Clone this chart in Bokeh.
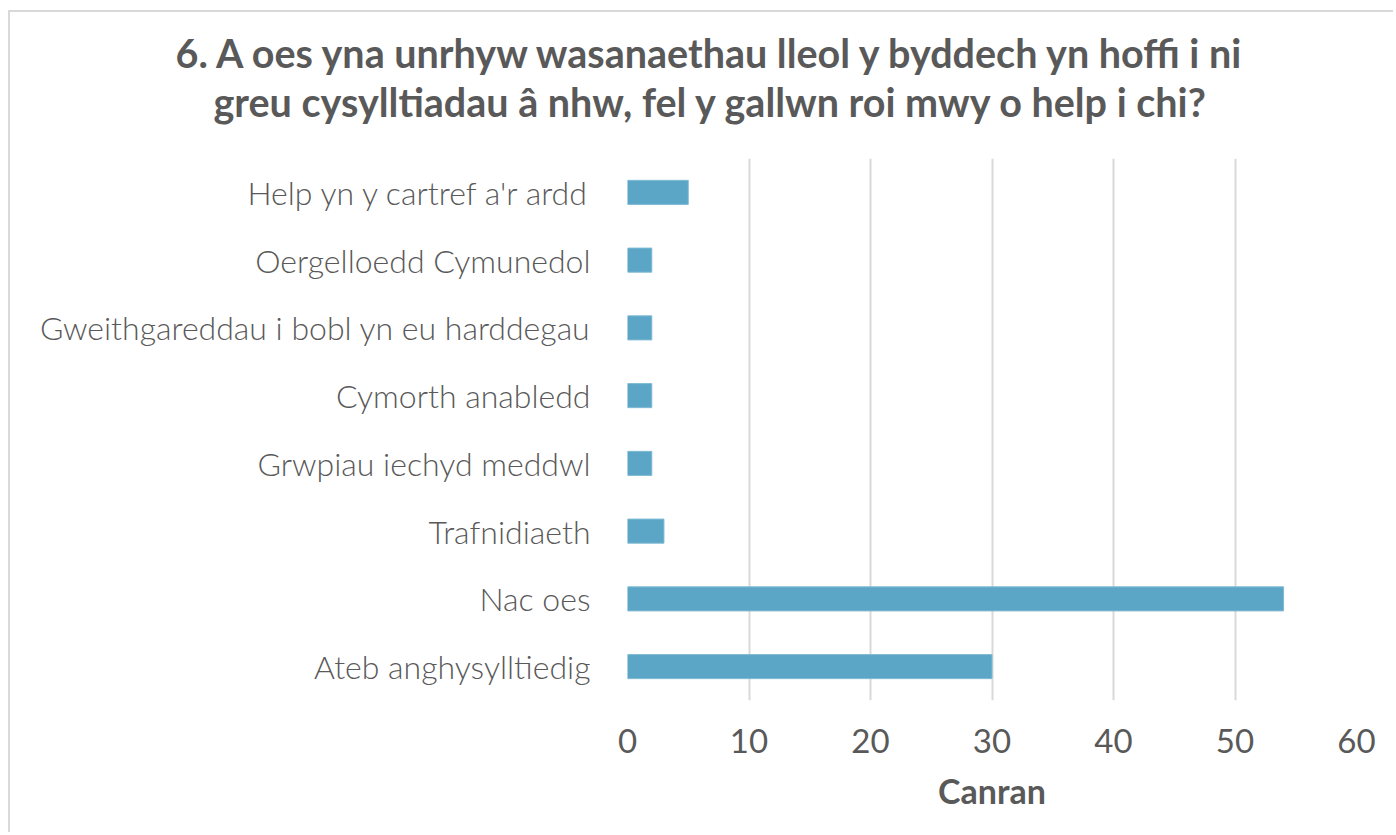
from bokeh.plotting import figure
from bokeh.models import Range1d, FactorRange, SingleIntervalTicker, Title
from bokeh.embed import file_html
from bokeh.resources import INLINE

categories = [
    "Help yn y cartref a'r ardd",
    "Oergelloedd Cymunedol",
    "Gweithgareddau i bobl yn eu harddegau",
    "Cymorth anabledd",
    "Grwpiau iechyd meddwl",
    "Trafnidiaeth",
    "Nac oes",
    "Ateb anghysylltiedig",
]
values = [5, 2, 2, 2, 2, 3, 54, 30]
title_lines = [
    "6. A oes yna unrhyw wasanaethau lleol y byddech yn hoffi i ni",
    "greu cysylltiadau â nhw, fel y gallwn roi mwy o help i chi?",
]
x_label = "Canran"

TEXT = "#595959"
BAR = "#5BA5C6"
FONT = "Lato"
LIGHT = "'Lato Light', Lato"

p = figure(
    width=1385, height=822,
    y_range=FactorRange(*reversed(categories), range_padding=0),
    x_range=Range1d(0, 60),
    output_backend="svg", toolbar_location=None,
    min_border_left=617, min_border_right=39,
    min_border_top=146, min_border_bottom=134,
)
p.margin = (10, 0, 0, 8)
p.hbar(y=categories, right=values, height=0.355, color=BAR, line_color="#7fbad3", line_width=1)

# spacer between plot and title
p.add_layout(Title(text=" ", text_font_size="1px", standoff=31), "above")
# title lines (line 2 nearest the plot, added first)
for txt, off in [(title_lines[1], -414), (title_lines[0], -452)]:
    p.add_layout(Title(
        text=txt, align="left", offset=off, standoff=0,
        text_font=FONT, text_font_size="39.5px", text_font_style="bold",
        text_color=TEXT,
    ), "above")
p.title.visible = False

p.xaxis.ticker = SingleIntervalTicker(interval=10)
p.xaxis.axis_label = x_label
p.xaxis.axis_label_text_font = FONT
p.xaxis.axis_label_text_font_size = "34px"
p.xaxis.axis_label_text_font_style = "bold"
p.xaxis.axis_label_text_color = TEXT
p.xaxis.axis_label_standoff = 14
p.xaxis.major_label_text_font = FONT
p.xaxis.major_label_text_font_size = "33px"
p.xaxis.major_label_text_color = TEXT
p.xaxis.major_label_standoff = 22

p.yaxis.major_label_text_font = LIGHT
p.yaxis.major_label_text_font_size = "32px"
p.yaxis.major_label_text_color = TEXT
p.yaxis.major_label_standoff = 31

for ax in (p.xaxis, p.yaxis):
    ax.axis_line_color = None
    ax.major_tick_line_color = None
    ax.minor_tick_line_color = None

p.xgrid.grid_line_color = "#d9d9d9"
p.xgrid.grid_line_width = 2
p.ygrid.grid_line_color = None
p.outline_line_color = None
p.styles = {"border-left": "2px solid #d9d9d9", "border-top": "2px solid #d9d9d9"}

open("out.html", "w").write(file_html(p, INLINE))
